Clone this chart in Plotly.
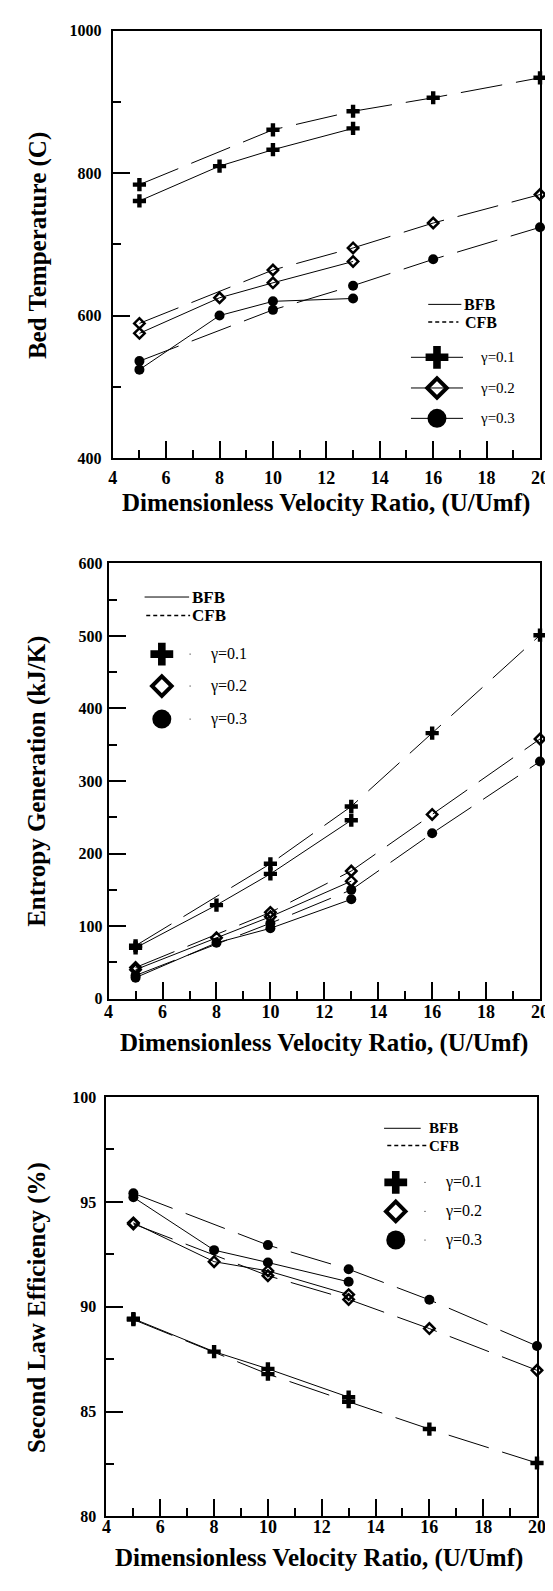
import plotly.graph_objects as go

W, H = 553, 1591

# ---------------- data ----------------
x_bfb = [5, 8, 10, 13]
x_cfb = [5, 10, 13, 16, 20]

# Bed temperature (C)
temp_bfb_g1 = [761, 810, 833, 863]
temp_cfb_g1 = [784, 861, 887, 906, 934]
temp_bfb_g2 = [575, 625, 646, 676]
temp_cfb_g2 = [589, 664, 695, 730, 770]
temp_bfb_g3 = [524, 600, 620, 624]
temp_cfb_g3 = [536, 608, 642, 679, 724]

# Entropy generation (kJ/K)
ent_bfb_g1 = [70, 129, 172, 246]
ent_cfb_g1 = [73, 186, 265, 366, 501]
ent_bfb_g2 = [40, 84, 113, 162]
ent_cfb_g2 = [43, 119, 176, 254, 358]
ent_bfb_g3 = [29, 77, 97, 137]
ent_cfb_g3 = [32, 104, 150, 228, 327]

# Second law efficiency (%)
eff_bfb_g1 = [89.43, 87.86, 87.04, 85.69]
eff_cfb_g1 = [89.39, 86.79, 85.47, 84.17, 82.55]
eff_bfb_g2 = [94.0, 92.15, 91.71, 90.58]
eff_cfb_g2 = [93.95, 91.48, 90.35, 88.96, 86.97]
eff_bfb_g3 = [95.22, 92.70, 92.11, 91.19]
eff_cfb_g3 = [95.41, 92.94, 91.79, 90.33, 88.13]

gamma_labels = ["γ=0.1", "γ=0.2", "γ=0.3"]
x_title = "Dimensionless Velocity Ratio, (U/Umf)"
y_titles = ["Bed Temperature (C)", "Entropy Generation (kJ/K)", "Second Law Efficiency (%)"]
y_ranges = [(400, 1000), (0, 600), (80, 100)]
y_dticks = [200, 100, 5]

# ---------------- layout helpers ----------------
FONT = "Liberation Serif"
panels = [
    dict(l=102.3, r=540.7, t=15.0, b=446.7),
    dict(l=98.1, r=540.7, t=553.3, b=993.3),
    dict(l=95.9, r=537.6, t=1092.7, b=1516.7),
]
x_standoff = [2, -4, -7]
y_standoff = [6, 1, 5]


def fx(px):
    return px / W


def fy(py):
    return 1 - py / H


symbols = ["cross", "diamond-open", "circle"]
sizes = [11, 8, 10]
mline = [0, 2.5, 0]

fig = go.Figure()

series = [
    [(temp_bfb_g1, temp_cfb_g1), (temp_bfb_g2, temp_cfb_g2), (temp_bfb_g3, temp_cfb_g3)],
    [(ent_bfb_g1, ent_cfb_g1), (ent_bfb_g2, ent_cfb_g2), (ent_bfb_g3, ent_cfb_g3)],
    [(eff_bfb_g1, eff_cfb_g1), (eff_bfb_g2, eff_cfb_g2), (eff_bfb_g3, eff_cfb_g3)],
]

for pi, pser in enumerate(series):
    xa = "x" if pi == 0 else f"x{pi+1}"
    ya = "y" if pi == 0 else f"y{pi+1}"
    for gi, (yb, yc) in enumerate(pser):
        mk = dict(symbol=symbols[gi], size=sizes[gi], color="black",
                  line=dict(color="black", width=mline[gi]))
        fig.add_trace(go.Scatter(x=x_bfb, y=yb, mode="lines+markers", xaxis=xa, yaxis=ya,
                                 line=dict(color="black", width=1), marker=mk,
                                 showlegend=False, cliponaxis=False))
        fig.add_trace(go.Scatter(x=x_cfb, y=yc, mode="lines+markers", xaxis=xa, yaxis=ya,
                                 line=dict(color="black", width=1, dash="42px,14px"), marker=mk,
                                 showlegend=False, cliponaxis=False))

layout = dict(
    width=W, height=H,
    margin=dict(l=0, r=0, t=0, b=0),
    paper_bgcolor="white", plot_bgcolor="rgba(0,0,0,0)",
    showlegend=False,
    font=dict(family=FONT, color="black", weight=700),
)

tick_x_font = dict(family=FONT, size=18, weight=700, color="black")
tick_y_font = dict(family=FONT, size=16, weight=700, color="black")

annotations = []
shapes = []
for pi, p in enumerate(panels):
    sx = "" if pi == 0 else str(pi + 1)
    layout["xaxis" + sx] = dict(
        domain=[fx(p["l"]), fx(p["r"])], anchor="y" + sx, range=[4, 20],
        tick0=4, dtick=2, ticks="inside", ticklen=17, tickwidth=1.5, tickcolor="black",
        minor=dict(dtick=1, ticks="inside", ticklen=8, tickwidth=1.5, tickcolor="black"),
        showline=True, linewidth=2, linecolor="black", mirror=True,
        showgrid=False, zeroline=False,
        tickfont=tick_x_font,
        ticklabelstandoff=x_standoff[pi], fixedrange=True,
    )
    lo, hi = y_ranges[pi]
    layout["yaxis" + sx] = dict(
        domain=[fy(p["b"]), fy(p["t"])], anchor="x" + sx, range=[lo, hi],
        tick0=lo, dtick=y_dticks[pi], ticks="inside", ticklen=17, tickwidth=1.5, tickcolor="black",
        minor=dict(dtick=y_dticks[pi] / 2, ticks="inside", ticklen=8, tickwidth=1.5, tickcolor="black"),
        showline=True, linewidth=2, linecolor="black", mirror=True,
        showgrid=False, zeroline=False,
        tickfont=tick_y_font,
        ticklabelstandoff=y_standoff[pi], fixedrange=True,
    )

# axis titles
xt_y = [492, 1038, 1559]
xt_x = [321, 319, 314]
yt_x = [25.5, 24.7, 24.6]
yt_y = [231.7, 774, 1305]
for pi in range(3):
    annotations.append(dict(text=x_title, xref="paper", yref="paper",
                            x=fx(xt_x[pi]), y=fy(xt_y[pi]),
                            xanchor="center", yanchor="middle", showarrow=False,
                            font=dict(family=FONT, size=25, weight="bold", color="black")))
    annotations.append(dict(text=y_titles[pi], xref="paper", yref="paper",
                            x=fx(yt_x[pi]), y=fy(yt_y[pi]),
                            xanchor="center", yanchor="middle", showarrow=False, textangle=-90,
                            font=dict(family=FONT, size=25, weight="bold", color="black")))

# ---------------- legends (overlay pixel axes) ----------------
layout["xaxis4"] = dict(domain=[0, 1], range=[0, W], visible=False, fixedrange=True, anchor="y4")
layout["yaxis4"] = dict(domain=[0, 1], range=[H, 0], visible=False, fixedrange=True, anchor="x4")

legends = [
    dict(bfb=(426, 460, 291.5, 461), cfb=(426, 457, 309.3, 461.5),
         rows=[345, 376, 406.7], mx=435, line=(408.3, 461.7), dot=None, tx=476.7, fs=15, bfs=16),
    dict(bfb=(135, 180.7, 587.3, 182), cfb=(136.7, 181.7, 606, 182),
         rows=[645, 677.3, 710.7], mx=152.7, line=None, dot=181.7, tx=200, fs=16, bfs=17),
    dict(bfb=(380.7, 418.3, 1124.3, 425), cfb=(384, 425, 1141.7, 425),
         rows=[1179, 1208.3, 1237.3], mx=392.7, line=None, dot=422.7, tx=440.7, fs=16, bfs=15),
]
leg_sizes = [19, 15, 19]
leg_mline = [0, 4, 0]
for L in legends:
    x0, x1, yy, tx = L["bfb"]
    shapes.append(dict(type="line", xref="x4", yref="y4", x0=x0, x1=x1, y0=yy, y1=yy,
                       line=dict(color="black", width=1)))
    annotations.append(dict(text="BFB", xref="x4", yref="y4", x=tx, y=yy, xanchor="left", yanchor="middle",
                            showarrow=False, font=dict(family=FONT, size=L["bfs"], weight="bold", color="black")))
    x0, x1, yy, tx = L["cfb"]
    shapes.append(dict(type="line", xref="x4", yref="y4", x0=x0, x1=x1, y0=yy, y1=yy,
                       line=dict(color="black", width=1.5, dash="4px,3px")))
    annotations.append(dict(text="CFB", xref="x4", yref="y4", x=tx, y=yy, xanchor="left", yanchor="middle",
                            showarrow=False, font=dict(family=FONT, size=L["bfs"], weight="bold", color="black")))
    for gi, ry in enumerate(L["rows"]):
        if L["line"]:
            shapes.append(dict(type="line", xref="x4", yref="y4", x0=L["line"][0], x1=L["line"][1],
                               y0=ry, y1=ry, line=dict(color="black", width=1)))
        if L["dot"]:
            shapes.append(dict(type="line", xref="x4", yref="y4", x0=L["dot"] - 0.5, x1=L["dot"] + 0.5,
                               y0=ry, y1=ry, line=dict(color="black", width=1)))
        fig.add_trace(go.Scatter(x=[L["mx"]], y=[ry], mode="markers", xaxis="x4", yaxis="y4",
                                 marker=dict(symbol=symbols[gi], size=leg_sizes[gi], color="black",
                                             line=dict(color="black", width=leg_mline[gi])),
                                 showlegend=False, hoverinfo="skip"))
        annotations.append(dict(text=gamma_labels[gi], xref="x4", yref="y4", x=L["tx"], y=ry,
                                xanchor="left", yanchor="middle", showarrow=False,
                                font=dict(family=FONT, size=L["fs"], weight="normal", color="black")))

layout["annotations"] = annotations
layout["shapes"] = shapes
fig.update_layout(**layout)
fig.write_html("out.html")
